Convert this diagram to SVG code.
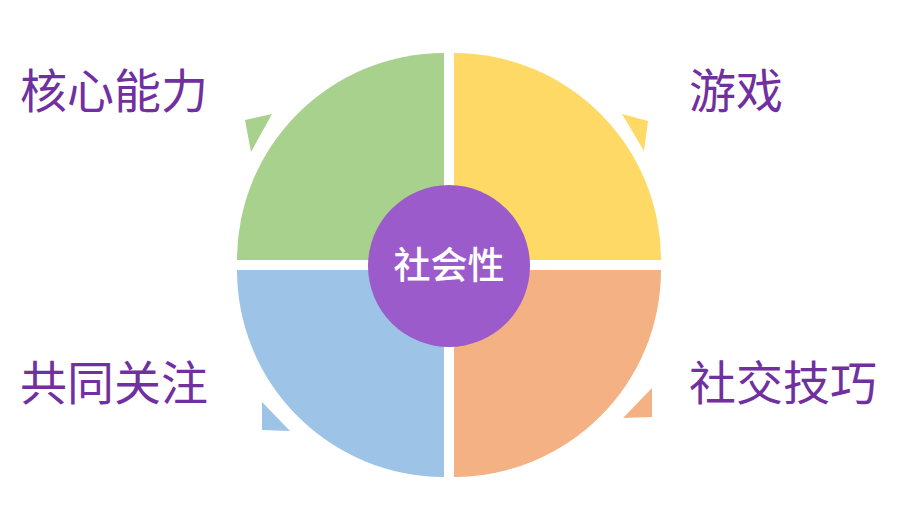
<svg xmlns="http://www.w3.org/2000/svg" width="897" height="505" viewBox="0 0 897 505">
<style>
.lbl{font-family:"Noto Sans CJK SC","Noto Sans CJK TC",sans-serif;font-size:47px;fill:#7030A0}
.ctr{font-family:"Noto Sans CJK SC","Noto Sans CJK TC",sans-serif;font-size:37px;fill:#FFFFFF;font-weight:500}
</style>
<rect width="897" height="505" fill="#FFFFFF"/>
<g id="connectors">
<polygon points="245,120 272,114 251,152" fill="#A9D18E"/>
<polygon points="622,114 648,121 644,151" fill="#FFD966"/>
<polygon points="652,388 652,417 623,418" fill="#F4B183"/>
<polygon points="262,402 262,430 290,431" fill="#9DC3E6"/>
</g>
<g id="node-core">
<path d="M444,260 L237,260 A207,207 0 0 1 444,53 Z" fill="#A9D18E"/>
<text class="lbl" x="20" y="108">核心能力</text>
</g>
<g id="node-game">
<path d="M454,260 L454,53 A207,207 0 0 1 661,260 Z" fill="#FFD966"/>
<text class="lbl" x="689" y="108">游戏</text>
</g>
<g id="node-attention">
<path d="M444,270 L444,477 A207,207 0 0 1 237,270 Z" fill="#9DC3E6"/>
<text class="lbl" x="20" y="400">共同关注</text>
</g>
<g id="node-skills">
<path d="M454,270 L661,270 A207,207 0 0 1 454,477 Z" fill="#F4B183"/>
<text class="lbl" x="689" y="400">社交技巧</text>
</g>
<g id="node-center">
<circle cx="449" cy="266" r="81" fill="#9C5BCB"/>
<text class="ctr" x="449" y="279" text-anchor="middle">社会性</text>
</g>
</svg>
